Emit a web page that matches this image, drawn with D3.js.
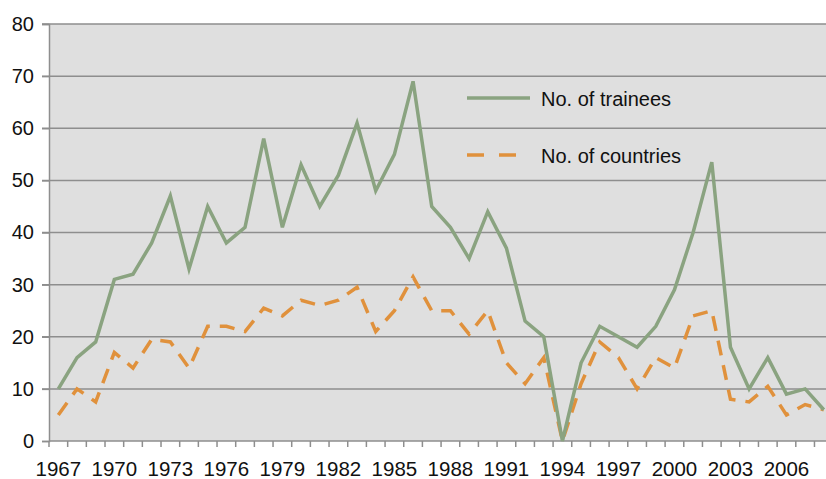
<!DOCTYPE html>
<html><head><meta charset="utf-8">
<script src="https://cdn.jsdelivr.net/npm/d3@7/dist/d3.min.js"></script>
<style>html,body{margin:0;padding:0;background:#fff;overflow:hidden}</style>
</head><body>
<script>
const years = d3.range(1967, 2009);
const trainees = [10,16,19,31,32,38,47,33,45,38,41,58,41,53,45,51,61,48,55,69,45,41,35,44,37,23,20,0,15,22,20,18,22,29,40,53.5,18,10,16,9,10,6];
const countries = [5,10,7.5,17,14,19.5,19,14,22,22,21,25.5,24,27,26,27,29.5,21,25,31.5,25,25,20.5,25,15,11,16,0,11,19,16,10,16,14,24,25,8,7.5,10.5,5,7,6];
const yTicks = [0,10,20,30,40,50,60,70,80];
const xLabelYears = [1967,1970,1973,1976,1979,1982,1985,1988,1991,1994,1997,2000,2003,2006];
const seriesNames = ["No. of trainees","No. of countries"];

(function(){
const W = 826, H = 479;
const pL = 49, pT = 24, pB = 441, pR = 49 + 42*18.67;
const svg = d3.select("body").append("svg").attr("width", W).attr("height", H)
  .style("font-family", "'Liberation Sans', Arial, sans-serif");

const x = d3.scaleBand().domain(years).range([pL, pR]).paddingInner(0).paddingOuter(0);
const y = d3.scaleLinear().domain([0, 80]).range([pB, pT]);
const cx = d => x(d) + x.bandwidth()/2;

svg.append("rect").attr("x", pL).attr("y", pT).attr("width", pR-pL).attr("height", pB-pT).attr("fill", "#dfdfdf");

svg.append("g").selectAll("line").data(yTicks.filter(d => d>0)).join("line")
  .attr("x1", pL-7).attr("x2", pR).attr("y1", d=>y(d)).attr("y2", d=>y(d))
  .attr("stroke", "#8e8e8e").attr("stroke-width", 1.5);

const yAxis = svg.append("g").attr("transform", `translate(${pL},0)`)
  .call(d3.axisLeft(y).tickValues(yTicks).tickSize(7).tickPadding(8));
yAxis.select(".domain").attr("stroke", "#8e8e8e").attr("stroke-width", 1.5);
yAxis.selectAll(".tick line").attr("stroke", "#8e8e8e").attr("stroke-width", 1.5);
yAxis.selectAll("text").attr("font-size", 20).attr("fill", "#111").attr("font-family", "'Liberation Sans', Arial, sans-serif");

const boundaries = years.map(d => x(d)).concat([pR]);
const xg = svg.append("g");
xg.append("line").attr("x1", pL).attr("x2", pR).attr("y1", pB).attr("y2", pB)
  .attr("stroke", "#8e8e8e").attr("stroke-width", 1.5);
xg.selectAll("line.t").data(boundaries).join("line").attr("class","t")
  .attr("x1", d=>d).attr("x2", d=>d).attr("y1", pB).attr("y2", pB+6)
  .attr("stroke", "#8e8e8e").attr("stroke-width", 1.5);
xg.selectAll("text").data(xLabelYears).join("text")
  .attr("x", d=>cx(d)).attr("y", 476).attr("text-anchor","middle")
  .attr("font-size", 20.5).attr("fill", "#111").text(d=>d);

const line = d3.line().x((d,i)=>cx(years[i])).y(d=>y(d));
svg.append("path").datum(countries).attr("d", line).attr("fill","none")
  .attr("stroke", "#e0913c").attr("stroke-width", 3.5).attr("stroke-dasharray", "15,10");
svg.append("path").datum(trainees).attr("d", line).attr("fill","none")
  .attr("stroke", "#8aa380").attr("stroke-width", 3.5).attr("stroke-linejoin","miter");

const lg = svg.append("g");
lg.append("line").attr("x1",467).attr("x2",530).attr("y1",98).attr("y2",98)
  .attr("stroke","#8aa380").attr("stroke-width",3.5);
lg.append("line").attr("x1",467).attr("x2",516).attr("y1",155).attr("y2",155)
  .attr("stroke","#e0913c").attr("stroke-width",3.5).attr("stroke-dasharray","17,15");
lg.append("text").attr("x",541).attr("y",106).attr("font-size",20).attr("fill","#111").text(seriesNames[0]);
lg.append("text").attr("x",541).attr("y",162.5).attr("font-size",20).attr("fill","#111").text(seriesNames[1]);
})();
</script>
</body></html>
